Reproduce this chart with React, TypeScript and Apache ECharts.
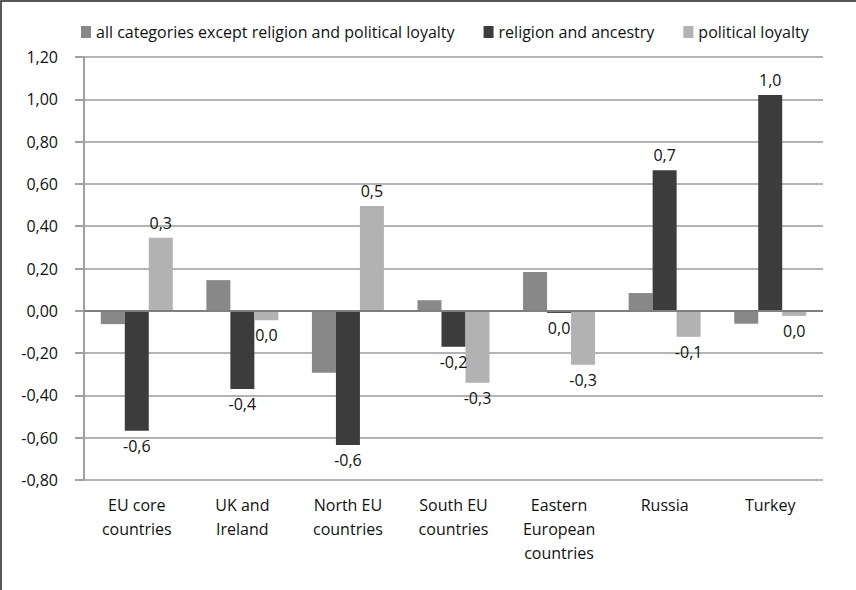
import React, { useEffect, useRef } from "react";
import * as echarts from "echarts";

const categories = [
  "EU core\ncountries",
  "UK and\nIreland",
  "North EU\ncountries",
  "South EU\ncountries",
  "Eastern\nEuropean\ncountries",
  "Russia",
  "Turkey",
];
const seriesNames = [
  "all categories except religion and political loyalty",
  "religion and ancestry",
  "political loyalty",
];
const allExcept = [-0.063, 0.145, -0.293, 0.05, 0.183, 0.084, -0.061];
const religion = [-0.567, -0.37, -0.635, -0.17, -0.01, 0.665, 1.02];
const political = [0.345, -0.045, 0.495, -0.34, -0.255, -0.123, -0.024];

const FONT = "'Open Sans', 'Noto Sans', sans-serif";
const TEXT = "#111";

const fmtLabel = (v: number) => {
  let s = v.toFixed(1);
  if (s === "-0.0") s = "0.0";
  return s.replace(".", ",");
};

export default function App() {
  const ref = useRef<HTMLDivElement>(null);
  useEffect(() => {
    document.body.style.margin = "0";
    if (!ref.current) return;
    const chart = echarts.init(ref.current, undefined, { renderer: "svg" });
    const valueLabel = {
      show: true,
      position: "outside",
      distance: 7,
      color: TEXT,
      fontSize: 16,
      fontFamily: FONT,
      formatter: (p: any) => fmtLabel(p.value),
    };
    chart.setOption({
      animation: false,
      backgroundColor: "#fff",
      textStyle: { fontFamily: FONT },
      graphic: [
        {
          type: "rect",
          shape: { x: 1, y: 1, width: 900, height: 700 },
          style: { fill: "none", stroke: "#222", lineWidth: 1.5 },
          silent: true,
        },
      ],
      legend: {
        top: 19,
        left: 76,
        itemWidth: 10,
        itemHeight: 12,
        itemGap: 29,
        icon: "rect",
        textStyle: { fontSize: 16, color: TEXT, fontFamily: FONT },
        data: seriesNames,
      },
      grid: { left: 84, right: 33, top: 57, bottom: 110, containLabel: false },
      xAxis: {
        type: "category",
        data: categories,
        axisLine: { show: false },
        axisTick: { show: false },
        axisLabel: {
          color: TEXT,
          fontSize: 16,
          lineHeight: 24,
          margin: 13,
          fontFamily: FONT,
          interval: 0,
        },
      },
      yAxis: {
        type: "value",
        min: -0.8,
        max: 1.2,
        interval: 0.2,
        axisLine: { show: true, lineStyle: { color: "#a0a0a0", width: 2 } },
        axisTick: { show: true, length: 9, lineStyle: { color: "#a0a0a0", width: 2 } },
        splitLine: { show: true, lineStyle: { color: "#b4b4b4", width: 2 } },
        axisLabel: {
          color: TEXT,
          fontSize: 16,
          margin: 26,
          fontFamily: FONT,
          formatter: (v: number) => v.toFixed(2).replace(".", ","),
        },
      },
      series: [
        {
          name: seriesNames[0],
          type: "bar",
          data: allExcept,
          barWidth: 24,
          barGap: "0%",
          itemStyle: { color: "#888888" },
          markLine: {
            silent: true,
            symbol: "none",
            label: { show: false },
            lineStyle: { color: "#808080", width: 2, type: "solid" },
            data: [{ yAxis: 0 }],
          },
        },
        {
          name: seriesNames[1],
          type: "bar",
          data: religion,
          barWidth: 24,
          barGap: "0%",
          itemStyle: { color: "#3c3c3c" },
          label: valueLabel,
        },
        {
          name: seriesNames[2],
          type: "bar",
          data: political,
          barWidth: 24,
          barGap: "0%",
          itemStyle: { color: "#b2b2b2" },
          label: valueLabel,
        },
      ],
    });
    return () => chart.dispose();
  }, []);
  return <div ref={ref} style={{ width: 856, height: 590 }} />;
}
